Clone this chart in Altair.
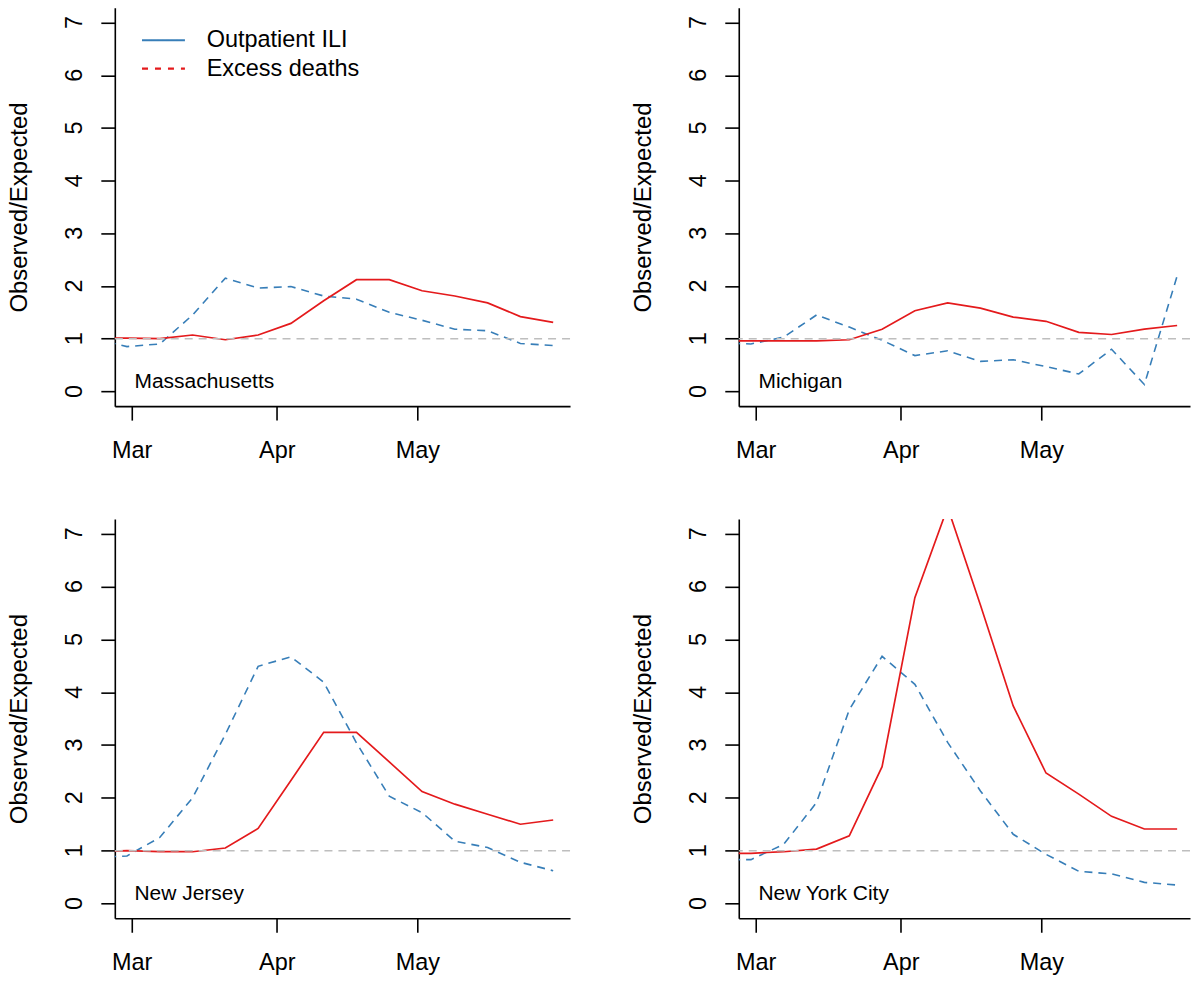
import altair as alt
import pandas as pd

# ---------------- data ----------------
week_ending = ["2020-02-22", "2020-02-29", "2020-03-07", "2020-03-14", "2020-03-21",
               "2020-03-28", "2020-04-04", "2020-04-11", "2020-04-18", "2020-04-25",
               "2020-05-02", "2020-05-09", "2020-05-16", "2020-05-23", "2020-05-30"]

states = ["Massachusetts", "Michigan", "New Jersey", "New York City"]

ili_ma = [1.00, 0.85, 0.90, 1.45, 2.15, 1.96, 1.99, 1.81, 1.75, 1.50, 1.35, 1.18, 1.15, 0.91, 0.87]
deaths_ma = [1.01, 1.01, 1.00, 1.07, 0.98, 1.07, 1.29, 1.72, 2.12, 2.12, 1.91, 1.81, 1.68, 1.42, 1.31]

ili_mi = [0.92, 0.90, 1.03, 1.45, 1.22, 0.97, 0.68, 0.77, 0.57, 0.60, 0.47, 0.33, 0.80, 0.13, 2.19]
deaths_mi = [0.96, 0.96, 0.96, 0.96, 0.98, 1.18, 1.53, 1.68, 1.58, 1.41, 1.33, 1.12, 1.08, 1.18, 1.25]

ili_nj = [0.87, 0.90, 1.25, 2.00, 3.20, 4.49, 4.67, 4.19, 3.04, 2.03, 1.72, 1.18, 1.06, 0.78, 0.62]
deaths_nj = [0.98, 1.00, 0.98, 0.98, 1.05, 1.42, 2.33, 3.24, 3.24, 2.68, 2.12, 1.88, 1.69, 1.50, 1.58]

ili_nyc = [0.83, 0.83, 1.12, 1.91, 3.67, 4.68, 4.15, 3.05, 2.13, 1.31, 0.93, 0.61, 0.56, 0.40, 0.35]
deaths_nyc = [0.95, 0.95, 0.98, 1.03, 1.28, 2.59, 5.79, 7.50, 5.65, 3.74, 2.47, 2.07, 1.65, 1.41, 1.41]

series_names = ["Outpatient ILI", "Excess deaths"]
month_starts = ["2020-03-01", "2020-04-01", "2020-05-01"]
month_labels = ["Mar", "Apr", "May"]
y_ticks = [0, 1, 2, 3, 4, 5, 6, 7]
ref_value = 1.0
y_title = "Observed/Expected"

# ---------------- styling ----------------
BLUE = "#377EB8"
RED = "#E41A1C"
GREY = "#BEBEBE"
FONT = "Liberation Sans"

origin = pd.Timestamp("2020-03-01")
days = [(pd.Timestamp(d) - origin).days for d in week_ending]
tick_days = [(pd.Timestamp(d) - origin).days for d in month_starts]
parts = [f"datum.value == {d} ? '{l}'" for d, l in zip(tick_days[:-1], month_labels[:-1])]
label_expr = " : ".join(parts) + f" : '{month_labels[-1]}'"

Y_DOMAIN = [-0.28, 7.28]
X_MIN = -3.6


def panel(name, ili, deaths, width, xmax, height, with_legend=False):
    n = len(days)
    df = pd.DataFrame({
        "day": days * 2,
        "value": ili + deaths,
        "series": [series_names[0]] * n + [series_names[1]] * n,
    })
    xaxis = alt.Axis(values=tick_days, labelExpr=label_expr, tickSize=14, tickWidth=1.6,
                     domainWidth=1.6, domainColor="black", tickColor="black",
                     labelFontSize=23.5, labelFont=FONT, labelColor="black",
                     labelPadding=37, labelBaseline="alphabetic", labelFlush=False,
                     labelOverlap=False, grid=False, title=None)
    yaxis = alt.Axis(values=y_ticks, tickSize=14, tickWidth=1.6, domainWidth=1.6,
                     domainColor="black", tickColor="black", labels=False, grid=False,
                     title=y_title, titleAngle=270, titleX=-88.5, titleY=height / 2,
                     titleAlign="center", titleBaseline="alphabetic", titleFontSize=24,
                     titleFont=FONT, titleFontWeight="normal", titleColor="black")
    x = alt.X("day:Q", scale=alt.Scale(domain=[X_MIN, xmax], nice=False, zero=False),
              axis=xaxis)
    y = alt.Y("value:Q", scale=alt.Scale(domain=Y_DOMAIN, nice=False, zero=False),
              axis=yaxis)

    base = alt.Chart(df)
    ili_line = base.transform_filter(alt.datum.series == series_names[0]).mark_line(
        clip=True, color=BLUE, strokeDash=[8, 6], strokeWidth=1.6).encode(x=x, y=y)
    death_line = base.transform_filter(alt.datum.series == series_names[1]).mark_line(
        clip=True, color=RED, strokeWidth=1.7).encode(x=x, y=y)
    rule = alt.Chart(pd.DataFrame({"value": [ref_value]})).mark_rule(
        color=GREY, strokeDash=[8, 6], strokeWidth=1.5).encode(y=y)
    label = alt.Chart(pd.DataFrame({"day": [0.6], "value": [0.07], "label": [name]})).mark_text(
        align="left", baseline="alphabetic", fontSize=21, font=FONT, color="black"
    ).encode(x=x, y=y, text="label:N")
    # y tick labels, rotated like R's default (las = 0)
    tick_labels = alt.Chart(pd.DataFrame({"value": y_ticks,
                                          "lab": [str(t) for t in y_ticks]})).mark_text(
        angle=270, align="center", baseline="alphabetic", fontSize=23.5, font=FONT,
        color="black"
    ).encode(y=y, x=alt.value(-33), text="lab:N")

    layers = [ili_line, death_line, rule, label, tick_labels]
    if with_legend:
        leg = alt.Legend(orient="none", legendX=26, legendY=20.5, title=None,
                         symbolType="M-1,0H3", symbolSize=462, symbolStrokeWidth=2.2,
                         labelFontSize=23.5, labelFont=FONT, labelColor="black",
                         rowPadding=4.5, labelOffset=42, padding=0)
        legend_layer = base.transform_filter(alt.datum.series == "none").mark_line().encode(
            x=x, y=y,
            color=alt.Color("series:N", scale=alt.Scale(domain=series_names, range=[BLUE, RED]),
                            legend=leg),
            strokeDash=alt.StrokeDash("series:N",
                                      scale=alt.Scale(domain=series_names, range=[[1, 0], [6, 7]]),
                                      legend=leg),
        )
        layers.append(legend_layer)
    return alt.layer(*layers).properties(width=width, height=height)


LEFT_W, RIGHT_W = 456, 452
X_MAX_L = 93.6
X_MAX_R = X_MIN + RIGHT_W / LEFT_W * (X_MAX_L - X_MIN)

row1 = alt.hconcat(
    panel(states[0], ili_ma, deaths_ma, LEFT_W, X_MAX_L, 399, with_legend=True),
    panel(states[1], ili_mi, deaths_mi, RIGHT_W, X_MAX_R, 399),
    spacing=60,
).resolve_scale(color="independent", strokeDash="independent")
row2 = alt.hconcat(
    panel(states[2], ili_nj, deaths_nj, LEFT_W, X_MAX_L, 400),
    panel(states[3], ili_nyc, deaths_nyc, RIGHT_W, X_MAX_R, 400),
    spacing=60,
).resolve_scale(color="independent", strokeDash="independent")

chart = alt.vconcat(row1, row2, spacing=57).resolve_scale(
    color="independent", strokeDash="independent"
).properties(
    padding={"left": 7, "top": 7, "right": 0, "bottom": 0},
    background="white",
).configure(font=FONT).configure_view(stroke=None, strokeWidth=0)

chart.save("out.html", embed_options={"renderer": "svg", "actions": False})
